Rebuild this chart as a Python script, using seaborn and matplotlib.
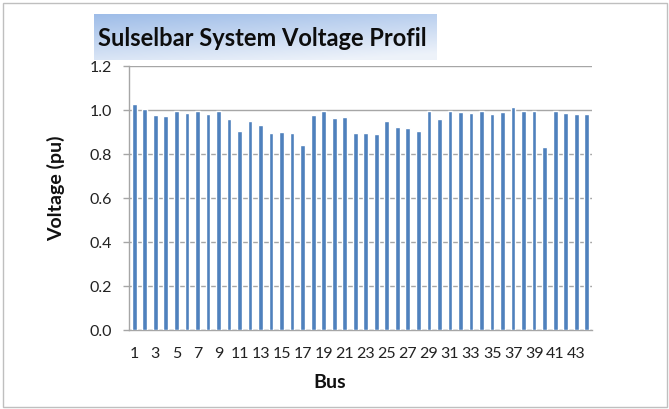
import numpy as np
import pandas as pd
import matplotlib
matplotlib.use("Agg")
import matplotlib.pyplot as plt
import seaborn as sns
from matplotlib.patches import Rectangle

buses = list(range(1, 45))
voltage = [1.028, 1.003, 0.978, 0.971, 0.997, 0.988, 0.997, 0.983, 0.997, 0.961,
           0.903, 0.948, 0.933, 0.894, 0.900, 0.897, 0.843, 0.978, 0.997, 0.964,
           0.967, 0.897, 0.897, 0.891, 0.948, 0.925, 0.916, 0.906, 0.997, 0.957,
           0.997, 0.992, 0.985, 0.997, 0.980, 0.992, 1.015, 0.997, 0.997, 0.830,
           0.997, 0.985, 0.983, 0.983]
yticks = [0.0, 0.2, 0.4, 0.6, 0.8, 1.0, 1.2]
title = "Sulselbar System Voltage Profil"
xlabel = "Bus"
ylabel = "Voltage (pu)"

sns.set_theme(style="white")
plt.rcParams['font.family'] = ['Lato', 'DejaVu Sans']

df = pd.DataFrame({"Bus": [str(b) for b in buses], "Voltage": voltage})

fig = plt.figure(figsize=(6.69, 4.09), dpi=100)
W, H = 669, 409
ax = fig.add_axes([129 / W, 1 - 330 / H, (592 - 129) / W, (330 - 66) / H])

sns.barplot(data=df, x="Bus", y="Voltage", color="#4f81bd", width=0.45,
            saturation=1, ax=ax, zorder=3)

ax.set_ylim(0, 1.2)
ax.set_xlim(-0.5, len(buses) - 0.5)
ax.set_yticks(yticks)
ax.set_yticklabels([f"{t:.1f}" for t in yticks], fontsize=11.5, color="#222222")
ax.yaxis.grid(True, color="#a6a6a6", linewidth=1, zorder=0)
ax.set_axisbelow(True)

ax.set_xticks(range(0, len(buses), 2))
ax.set_xticklabels([str(b) for b in buses[::2]], fontsize=11.5, color="#222222")
ax.set_xticks(np.arange(-0.5, len(buses), 1), minor=True)
ax.tick_params(axis="x", which="major", length=0, pad=12)
ax.tick_params(axis="x", which="minor", length=4, color="#a6a6a6", width=1, direction="out")
ax.tick_params(axis="y", which="major", length=4, color="#a6a6a6", width=1, direction="out", left=True, pad=8)

for s in ["top", "right"]:
    ax.spines[s].set_visible(False)
for s in ["left", "bottom"]:
    ax.spines[s].set_color("#a6a6a6")
    ax.spines[s].set_linewidth(1)

xl = ax.set_xlabel(xlabel, fontsize=14, fontweight="bold", color="#111111")
yl = ax.set_ylabel(ylabel, fontsize=14, fontweight="bold", color="#111111")
xl.set_va("center")
xl.set_ha("center")
yl.set_va("center")
yl.set_ha("center")
ax.xaxis.set_label_coords((330 - 129) / 463, (330 - 382) / 264)
ax.yaxis.set_label_coords((56 - 129) / 463, (330 - 188) / 264)

# title with gradient background
tax = fig.add_axes([94 / W, 1 - 60 / H, (436 - 94) / W, (60 - 14) / H])
gy = np.linspace(0, 1, 50)[:, None]
gx = np.linspace(0, 1, 200)[None, :]
t = np.clip(0.75 * gy + 0.35 * gx, 0, 1)
c0 = np.array([0.62, 0.74, 0.91])
c1 = np.array([0.93, 0.95, 0.98])
img = c0[None, None, :] * (1 - t[..., None]) + c1[None, None, :] * t[..., None]
tax.imshow(img, aspect="auto", extent=[0, 1, 0, 1], origin="upper")
tax.set_axis_off()
fig.text(262 / W, 1 - 39 / H, title, fontsize=17, fontweight="bold",
         ha="center", va="center", color="#0d0d0d")

fig.patches.append(Rectangle((3 / W, 2 / H), 664 / W, 404 / H, transform=fig.transFigure,
                             fill=False, edgecolor="#bfbfbf", linewidth=1))

fig.savefig("out.png", dpi=100)
